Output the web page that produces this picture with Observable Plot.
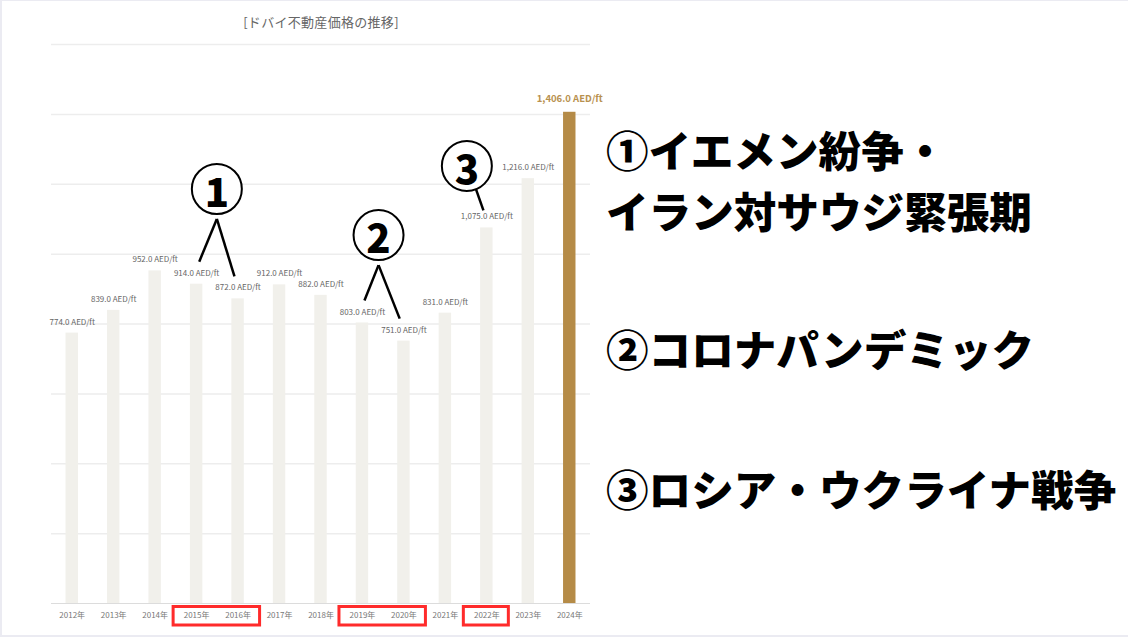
<!DOCTYPE html>
<html>
<head>
<meta charset="utf-8">
<script src="https://cdn.jsdelivr.net/npm/d3@7"></script>
<script src="https://cdn.jsdelivr.net/npm/@observablehq/plot@0.6"></script>
<style>
  html, body { margin: 0; padding: 0; }
  body { width: 1128px; height: 637px; background: #ebebf2; position: relative; overflow: hidden;
         font-family: "Noto Sans CJK JP", "Noto Sans", sans-serif; }
  #panel { position: absolute; left: 2px; top: 1px; width: 1126px; height: 634px; background: #fff; }
  #title { position: absolute; left: 0; top: 12px; width: 642px; text-align: center;
           font-size: 13px; color: #666; letter-spacing: 0.3px; }
  #chart { position: absolute; left: 0; top: 36px; }
  .note { position: absolute; left: 606px; font-size: 42.6px; font-weight: 900; color: #000;
          line-height: 1; white-space: nowrap; }
</style>
</head>
<body>
<div id="panel"></div>
<div id="title">[ドバイ不動産価格の推移]</div>
<div id="chart"></div>
<div class="note" style="top:128px">①イエメン紛争・</div>
<div class="note" style="top:189px">イラン対サウジ緊張期</div>
<div class="note" style="top:327px">②コロナパンデミック</div>
<div class="note" style="top:467px">③ロシア・ウクライナ戦争</div>
<script>
// ---- data ----
const years = ["2012年","2013年","2014年","2015年","2016年","2017年","2018年","2019年","2020年","2021年","2022年","2023年","2024年"];
const prices = [774, 839, 952, 914, 872, 912, 882, 803, 751, 831, 1075, 1216, 1406];
const highlightYear = "2024年";
const unit = " AED/ft";
const yTicks = [0, 200, 400, 600, 800, 1000, 1200, 1400, 1600];
const boxedGroups = [["2015年","2016年"], ["2019年","2020年"], ["2022年"]];
const annotLabels = ["1", "2", "3"];
const annotTargets = [["2015年","2016年"], ["2019年","2020年"], ["2022年"]];
const annotXIndex = [3.5, 7.4, 9.53];
const annotYValue = [1185, 1053, 1251];

const rows = years.map((y, i) => ({year: y, price: prices[i], hi: y === highlightYear}));
const fmt = d3.format(",.1f");

const plot = Plot.plot({
  width: 600,
  height: 601,
  marginTop: 8,
  marginBottom: 34,
  marginLeft: 51,
  marginRight: 10,
  style: {fontFamily: '"Noto Sans CJK JP", "Noto Sans", sans-serif', background: "transparent", overflow: "visible"},
  x: {domain: years, paddingInner: 0.7, paddingOuter: 0.35, round: false, label: null},
  y: {domain: [0, 1600], label: null},
  marks: [
    Plot.gridY(yTicks.filter(d => d > 0), {stroke: "#ededed", strokeOpacity: 1, strokeWidth: 1.5}),
    Plot.barY(rows, {x: "year", y: "price", fill: d => d.hi ? "#b58b47" : "#f1f0eb"}),
    Plot.ruleY([0], {stroke: "#dcdcdc", strokeWidth: 1.2}),
    Plot.text(rows.filter(d => !d.hi), {x: "year", y: "price", text: d => fmt(d.price) + unit,
      dy: -11, fontSize: 8, fill: "#666"}),
    Plot.text(rows.filter(d => d.hi), {x: "year", y: "price", text: d => fmt(d.price) + unit,
      dy: -13, fontSize: 9.5, fontWeight: 600, fill: "#b8914f"}),
    Plot.axisX({tickSize: 0, tickPadding: 9, fontSize: 8, color: "#777"}),
    Plot.axisY({ticks: [], tickSize: 0, label: null})
  ]
});
document.getElementById("chart").appendChild(plot);

// ---- overlays (computed from the plot's scales) ----
const sx = plot.scale("x"), sy = plot.scale("y");
const bw = sx.bandwidth;
const step = sx.step;
const cx = y => sx.apply(y) + bw / 2;
const svg = d3.select(plot);
const g = svg.append("g");

// red boxes around tick labels
const yBase = sy.apply(0);
boxedGroups.forEach(grp => {
  const x1 = cx(grp[0]) - 23, x2 = cx(grp[grp.length - 1]) + 22;
  g.append("rect").attr("x", x1).attr("y", yBase + 3.5).attr("width", x2 - x1).attr("height", 18.5)
    .attr("fill", "none").attr("stroke", "#ff2b2b").attr("stroke-width", 3);
});

// circled-number annotations
const x0 = cx(years[0]);
annotLabels.forEach((lab, i) => {
  const ax = x0 + step * annotXIndex[i];
  const ay = sy.apply(annotYValue[i]);
  const r = 25;
  g.append("circle").attr("cx", ax).attr("cy", ay).attr("r", r)
    .attr("fill", "#fff").attr("stroke", "#000").attr("stroke-width", 2);
  g.append("text").attr("x", ax).attr("y", ay).attr("text-anchor", "middle")
    .attr("dominant-baseline", "central").attr("font-size", 40).attr("font-weight", 900)
    .attr("dy", "0.02em").attr("fill", "#000").text(lab);
  const targets = annotTargets[i];
  targets.forEach(t => {
    const idx = years.indexOf(t);
    const bx = cx(t);
    const labelY = sy.apply(prices[idx]) - 11;
    let sxp = ax, syp = ay + r + 5;
    if (targets.length === 1) { sxp = ax + 9; syp = ay + r - 2; }
    const ex = bx + (ax - bx) * 0.15;
    const ey = labelY - (targets.length > 1 ? 11 : 6);
    g.append("line").attr("x1", sxp).attr("y1", syp).attr("x2", ex).attr("y2", ey)
      .attr("stroke", "#000").attr("stroke-width", 2.5);
  });
});
</script>
</body>
</html>
